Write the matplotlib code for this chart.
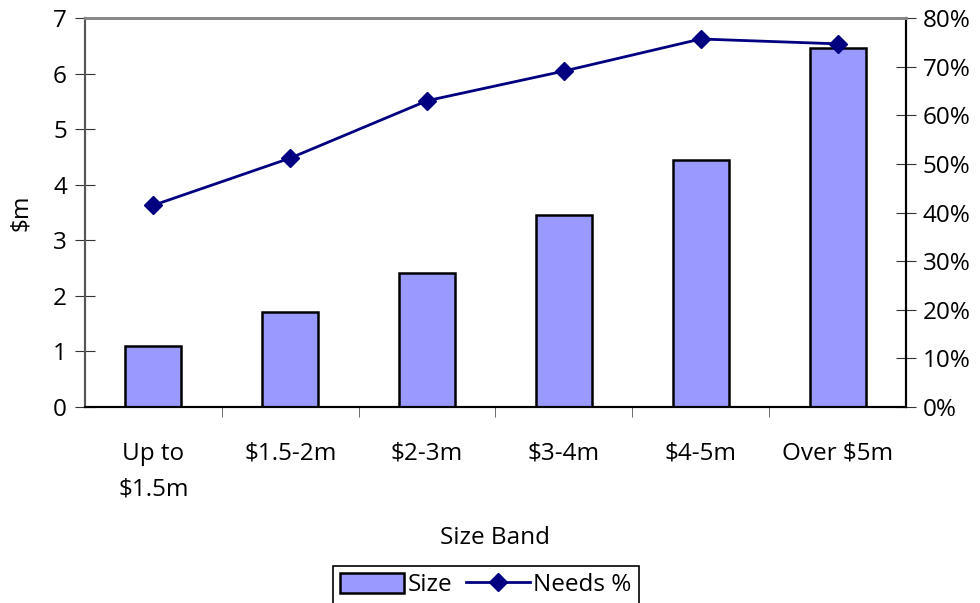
import matplotlib
matplotlib.use("Agg")
import matplotlib.pyplot as plt
import numpy as np

# data
bands = ["Up to\n$1.5m", "$1.5-2m", "$2-3m", "$3-4m", "$4-5m", "Over $5m"]
size_m = [1.10, 1.71, 2.42, 3.45, 4.44, 6.47]
needs_pct = [41.5, 51.2, 63.0, 69.1, 75.7, 74.7]

plt.rcParams["font.family"] = ["Open Sans", "DejaVu Sans"]
plt.rcParams["font.size"] = 17.5

fig = plt.figure(figsize=(9.8, 6.03), dpi=100)
ax = fig.add_axes([0.0867, 0.325, 0.8378, 0.645])
ax2 = ax.twinx()

x = np.arange(len(bands))
bars = ax.bar(x, size_m, width=0.41, color="#9999FF", edgecolor="black",
              linewidth=1.8, label="Size", zorder=2)
line, = ax2.plot(x, needs_pct, color="#000080", linewidth=2, marker="D",
                 markersize=9, label="Needs %", zorder=3)

ax.set_xlim(-0.5, len(bands) - 0.5)
ax.set_ylim(0, 7)
ax.set_yticks(range(0, 8))
ax2.set_ylim(0, 80)
ax2.set_yticks(range(0, 81, 10))
ax2.set_yticklabels([f"{v}%" for v in range(0, 81, 10)])

# category labels sit between boundary ticks
ax.set_xticks(x)
ax.set_xticklabels(bands, linespacing=1.65, va="top")
ax.tick_params(axis="x", length=0, pad=25)
ax.set_xticks(np.arange(0.5, len(bands) - 0.5), minor=True)
ax.tick_params(axis="x", which="minor", length=7, direction="out", color="#555555")
ax.tick_params(axis="y", direction="inout", length=14, pad=6, color="#333333")
ax2.tick_params(axis="y", direction="inout", length=14, pad=5, color="#333333")

for a in (ax, ax2):
    a.spines["top"].set_color("#888888")
    a.spines["top"].set_linewidth(2)
    a.spines["left"].set_color("#555555")
    a.spines["left"].set_linewidth(1.5)
    a.spines["right"].set_color("black")
    a.spines["right"].set_linewidth(1.5)
    a.spines["bottom"].set_color("black")
    a.spines["bottom"].set_linewidth(1.5)

ax.set_ylabel("$m", labelpad=14)
ax.set_xlabel("Size Band", labelpad=18)

leg = fig.legend([bars, line], ["Size", "Needs %"], loc="upper center",
                 bbox_to_anchor=(0.496, 0.082), ncol=2, frameon=True,
                 fancybox=False, edgecolor="black", framealpha=1,
                 handlelength=2.6, handleheight=0.9, columnspacing=0.6,
                 handletextpad=0.15, borderpad=0.3)
leg.get_frame().set_linewidth(1.2)

fig.savefig("out.png", dpi=100)
